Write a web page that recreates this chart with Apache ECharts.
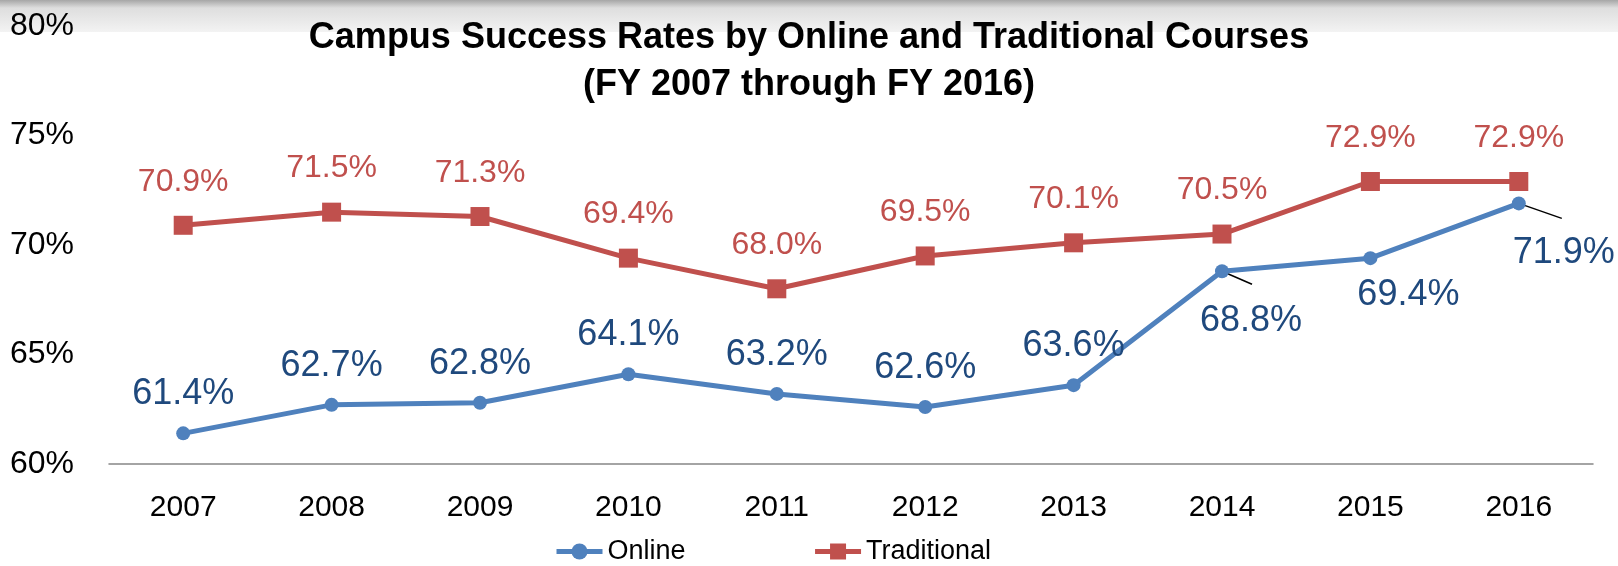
<!DOCTYPE html>
<html>
<head>
<meta charset="utf-8">
<script src="https://cdn.jsdelivr.net/npm/echarts@6/dist/echarts.min.js"></script>
<style>
  html, body { margin: 0; padding: 0; background: #fff; }
  #chart { width: 1618px; height: 566px; }
</style>
</head>
<body>
<div id="chart"></div>
<script>
// 数据
const years = ['2007', '2008', '2009', '2010', '2011', '2012', '2013', '2014', '2015', '2016']
const online = [61.4, 62.7, 62.8, 64.1, 63.2, 62.6, 63.6, 68.8, 69.4, 71.9]
const traditional = [70.9, 71.5, 71.3, 69.4, 68.0, 69.5, 70.1, 70.5, 72.9, 72.9]
const yTicks = [60, 65, 70, 75, 80]

const FONT = 'Liberation Sans, Arial, sans-serif'
const BLUE = '#4F81BD'
const RED = '#C0504D'

// 标签放在下方的点，leader 为引导线终点相对数据点的偏移
const belowLabels = {
  7: { dx: 29, dy: 20, leader: [30, 13] },
  8: { dx: 38, dy: 7, leader: null },
  9: { dx: 45, dy: 20, leader: [43, 15] }
}

const onlineData = online.map(function (v, i) {
  if (!belowLabels[i]) return v
  return { value: v, label: { position: 'bottom', distance: 5 } }
})

// 顶部灰色渐变条
const topBand = {
  type: 'rect',
  z: -10,
  shape: { x: 0, y: 0, width: 1618, height: 32 },
  style: {
    fill: {
      type: 'linear', x: 0, y: 0, x2: 0, y2: 1,
      colorStops: [
        { offset: 0, color: '#a6a6a6' },
        { offset: 0.25, color: '#dedede' },
        { offset: 1, color: '#f3f3f3' }
      ]
    }
  }
}

const chart = echarts.init(document.getElementById('chart'))

const option = {
  animation: false,
  backgroundColor: '#fff',
  graphic: [topBand],
  title: {
    text: 'Campus Success Rates by Online and Traditional Courses\n(FY 2007 through FY 2016)',
    left: 'center',
    top: 10,
    textStyle: {
      fontFamily: FONT,
      fontWeight: 'bold',
      fontSize: 36,
      lineHeight: 47,
      color: '#000'
    }
  },
  grid: {
    left: 109,
    right: 25,
    top: 26,
    bottom: 102
  },
  legend: {
    left: 554,
    top: 538,
    padding: 0,
    itemGap: 127,
    itemWidth: 46,
    itemHeight: 20,
    textStyle: { fontFamily: FONT, fontSize: 27, color: '#000' },
    data: [
      { name: 'Online', lineStyle: { width: 5 } },
      { name: 'Traditional', lineStyle: { width: 5 } }
    ]
  },
  xAxis: {
    type: 'category',
    data: years,
    axisLine: { lineStyle: { color: '#868686', width: 1.5 } },
    axisTick: { show: false },
    axisLabel: { fontFamily: FONT, fontSize: 30, color: '#000', margin: 29 }
  },
  yAxis: {
    type: 'value',
    min: yTicks[0],
    max: yTicks[yTicks.length - 1],
    interval: 5,
    axisLine: { show: false },
    axisTick: { show: false },
    splitLine: { show: false },
    axisLabel: {
      fontFamily: FONT,
      fontSize: 32,
      color: '#000',
      align: 'left',
      margin: 99,
      formatter: '{value}%'
    }
  },
  series: [
    {
      name: 'Online',
      type: 'line',
      data: onlineData,
      symbol: 'circle',
      symbolSize: 14,
      color: BLUE,
      lineStyle: { color: BLUE, width: 5 },
      label: {
        show: true,
        position: 'top',
        distance: 14,
        fontFamily: FONT,
        fontSize: 36,
        color: '#1F497D',
        formatter: function (p) { return p.value.toFixed(1) + '%' }
      },
      labelLayout: function (params) {
        const b = belowLabels[params.dataIndex]
        if (!b) return {}
        return { dx: b.dx, dy: b.dy }
      }
    },
    {
      name: 'Traditional',
      type: 'line',
      data: traditional,
      symbol: 'rect',
      symbolSize: 19,
      color: RED,
      lineStyle: { color: RED, width: 5 },
      label: {
        show: true,
        position: 'top',
        distance: 18,
        fontFamily: FONT,
        fontSize: 32,
        color: RED,
        formatter: function (p) { return p.value.toFixed(1) + '%' }
      }
    }
  ]
}

chart.setOption(option)

// 引导线：用坐标轴换算数据点位置
const leaders = []
Object.keys(belowLabels).forEach(function (k) {
  const b = belowLabels[k]
  if (!b.leader) return
  const i = Number(k)
  const p = chart.convertToPixel({ seriesIndex: 0 }, [i, online[i]])
  leaders.push({
    type: 'line',
    z: 1,
    shape: { x1: p[0], y1: p[1], x2: p[0] + b.leader[0], y2: p[1] + b.leader[1] },
    style: { stroke: '#000', lineWidth: 1.5 }
  })
})
chart.setOption({ graphic: [topBand].concat(leaders) })
</script>
</body>
</html>
